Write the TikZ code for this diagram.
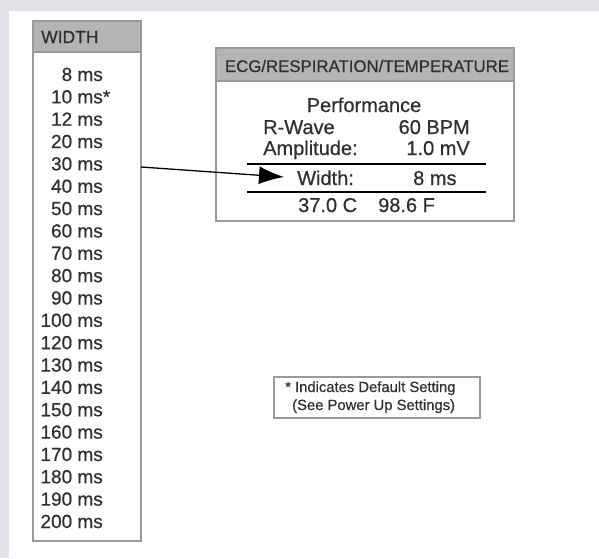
\documentclass[tikz,border=0pt]{standalone}
\usepackage{fontspec}
\setmainfont{Liberation Sans}[FakeBold=0.6]
\newfontfamily\heavy{Liberation Sans}[FakeBold=0.6]
\usetikzlibrary{arrows.meta}
\definecolor{bgstrip}{HTML}{E2E3E8}
\definecolor{boxline}{HTML}{9A9A9A}
\definecolor{hdrfill}{HTML}{B4B4B4}
\definecolor{txt}{HTML}{303030}
\tikzset{
  panel/.style={draw=boxline, line width=1.3pt, fill=white},
  hdr/.style={draw=boxline, line width=1.3pt, fill=hdrfill},
  lbl/.style={inner sep=0pt, text=txt, font=\heavy\fontsize{19}{19}\selectfont},
  item/.style={lbl, anchor=base east},
  body/.style={inner sep=0pt, text=txt, font=\heavy\fontsize{20}{20}\selectfont},
  note/.style={inner sep=0pt, text=txt, font=\heavy\fontsize{14.8}{14.8}\selectfont},
  rule/.style={line width=1.6pt, black},
  pointer/.style={line width=1.3pt, black, -{Latex[length=25pt,width=18pt]}}
}
\begin{document}
\begin{tikzpicture}[x=1pt,y=-1pt]
\useasboundingbox (0,0) rectangle (599,558);
\fill[bgstrip] (0,0) rectangle (599,11);
\fill[bgstrip] (0,0) rectangle (9,558);
% WIDTH panel
\draw[panel] (33,21) rectangle (141,541);
\draw[hdr] (33,21) rectangle (141,52);
\node[lbl, anchor=base west, font=\heavy\fontsize{17.5}{17.5}\selectfont] (wt) at (41,43) {WIDTH};
\foreach \v [count=\i from 0] in {8,10,12,20,30,40,50,60,70,80,90,100,120,130,140,150,160,170,180,190,200}{
  \ifnum\v=10
    \node[item] (w\i) at (103,81+22.35*\i) {\v\ ms\rlap{*}};
  \else
    \node[item] (w\i) at (103,81+22.35*\i) {\v\ ms};
  \fi
}
% ECG panel
\draw[panel] (216,48) rectangle (514,221);
\draw[hdr] (216,48) rectangle (514,81);
\node[lbl, anchor=base, font=\heavy\fontsize{16.8}{16.8}\selectfont] (et) at (367,72) {ECG/RESPIRATION/TEMPERATURE};
\node[body, anchor=base] (perf) at (364,112) {Performance};
\node[body, anchor=base west] (rw) at (263,134) {R-Wave};
\node[body, anchor=base east] (bpm) at (470,134) {60 BPM};
\node[body, anchor=base west] (amp) at (263,155) {Amplitude:};
\node[body, anchor=base east] (mv) at (470,155) {1.0 mV};
\coordinate (r1a) at (247,164);
\coordinate (r1b) at (486,164);
\draw[rule] (r1a) -- (r1b);
\node[body, anchor=base west] (wd) at (297,185) {Width:};
\node[body, anchor=base west] (wv) at (413,185) {8 ms};
\coordinate (r2a) at (247,192);
\coordinate (r2b) at (486,192);
\draw[rule] (r2a) -- (r2b);
\node[body, anchor=base west] (tc) at (298,212) {37.0 C};
\node[body, anchor=base west] (tf) at (378,212) {98.6 F};
% arrow
\coordinate (as) at (141,167);
\coordinate (ae) at (284,177);
\draw[pointer] (as) -- (ae);
% note
\draw[panel, line width=1.1pt] (274,377) rectangle (480,418);
\node[note, anchor=base west] (n1) at (285,392) {* Indicates Default Setting};
\node[note, anchor=base west] (n2) at (292,410) {(See Power Up Settings)};
\end{tikzpicture}
\end{document}
